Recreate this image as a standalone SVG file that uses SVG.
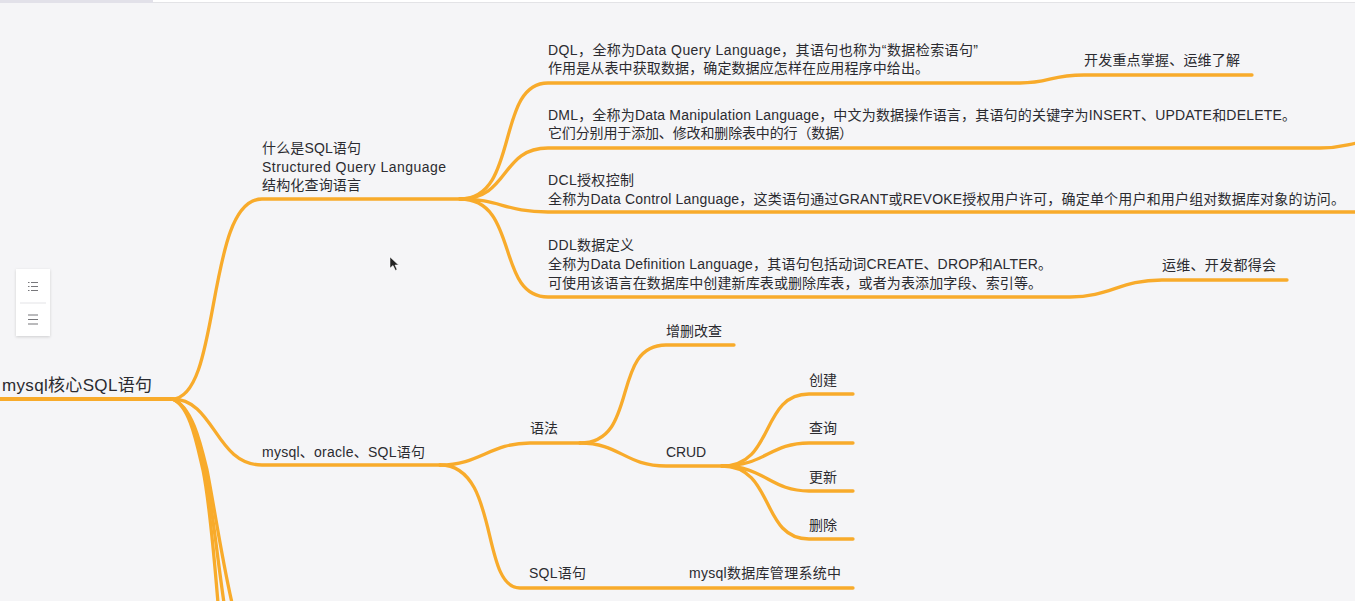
<svg xmlns="http://www.w3.org/2000/svg" width="1355" height="601" viewBox="0 0 1355 601">
<style>
text{font-family:"Liberation Sans","Noto Sans CJK SC",sans-serif;font-size:14px;fill:#2b2b30}
.l{fill:none;stroke:#f8ab2b;stroke-width:3.300;stroke-linecap:round}
.ic{stroke:#77777b;stroke-width:1.2;fill:none}
</style>
<defs><filter id="sh" x="-30%" y="-30%" width="160%" height="160%"><feDropShadow dx="0" dy="1" stdDeviation="1.500" flood-color="#000" flood-opacity=".16"/></filter></defs>
<rect width="1355" height="601" fill="#f5f5f7"/>
<rect width="1355" height="2" fill="#ffffff"/>
<rect y="2" width="1355" height="1" fill="#e3e3e6"/>
<rect width="153" height="3" fill="#e2e1e9"/>
<g id="connectors">
<path class="l" style="stroke-width:4" d="M-2,399H172"/>
<path class="l" d="M172,399C222,399 205,199 262,199H460"/>
<path class="l" d="M172,399C215,399 215,465 262,465H440"/>
<path class="l" d="M172,399C190,405 197,445 203,470C210,505 214,555 218,603"/>
<path class="l" d="M172,399C191,405 199,445 205,470C212,505 217,555 224,603"/>
<path class="l" d="M172,399C192,405 201,445 207,470C214,505 221,555 232,603"/>
<path class="l" d="M460,199C520,199 495,83 548,83H1020C1050,83 1050,75 1084,75H1252"/>
<path class="l" d="M460,199C510,199 500,148 548,148H1320C1340,148 1345,145 1357,143"/>
<path class="l" d="M460,199C500,199 505,212 548,212H1357"/>
<path class="l" d="M460,199C520,199 495,297 548,297H1070C1110,297 1120,280 1162,280H1287"/>
<path class="l" d="M440,465C480,465 490,443 530,443H580"/>
<path class="l" d="M440,465C500,465 480,588 520,588H853"/>
<path class="l" d="M580,443C640,443 610,345 666,345H734"/>
<path class="l" d="M580,443C620,443 625,466 666,466H722"/>
<path class="l" d="M722,466C775,466 760,394 809,394H853"/>
<path class="l" d="M722,466C765,466 770,443 809,443H853"/>
<path class="l" d="M722,466C765,466 770,491 809,491H853"/>
<path class="l" d="M722,466C775,466 760,539 809,539H853"/>
</g>
<g id="toolbar">
<rect x="16" y="269" width="34" height="67" fill="#fff" filter="url(#sh)"/>
<path d="M20,303H46" stroke="#e3e3e6"/>
<path class="ic" d="M31,282.500H38M31,286.500H38M31,290.500H38M28,282.500H29.500M28,286.500H29.500M28,290.500H29.500"/>
<path class="ic" d="M28,315H38M28,319.500H38M28,324H38"/>
</g>
<g id="root"><text x="2" y="391" textLength="150" style="font-size:17px">mysql核心SQL语句</text></g>
<g id="n-sql"><text x="262" y="153" textLength="99">什么是SQL语句</text><text x="262" y="172" textLength="184">Structured Query Language</text><text x="262" y="190" textLength="99">结构化查询语言</text></g>
<g id="n-dql"><text x="548" y="55" textLength="430">DQL，全称为Data Query Language，其语句也称为“数据检索语句”</text><text x="548" y="73" textLength="381">作用是从表中获取数据，确定数据应怎样在应用程序中给出。</text></g>
<g id="n-dql-note"><text x="1084" y="65" textLength="156">开发重点掌握、运维了解</text></g>
<g id="n-dml"><text x="548" y="120" textLength="748">DML，全称为Data Manipulation Language，中文为数据操作语言，其语句的关键字为INSERT、UPDATE和DELETE。</text><text x="548" y="138" textLength="305">它们分别用于添加、修改和删除表中的行（数据）</text></g>
<g id="n-dcl"><text x="548" y="185" textLength="86">DCL授权控制</text><text x="548" y="204" textLength="797">全称为Data Control Language，这类语句通过GRANT或REVOKE授权用户许可，确定单个用户和用户组对数据库对象的访问。</text></g>
<g id="n-ddl"><text x="548" y="250" textLength="86">DDL数据定义</text><text x="548" y="269" textLength="504">全称为Data Definition Language，其语句包括动词CREATE、DROP和ALTER。</text><text x="548" y="288" textLength="494">可使用该语言在数据库中创建新库表或删除库表，或者为表添加字段、索引等。</text></g>
<g id="n-ddl-note"><text x="1162" y="270" textLength="114">运维、开发都得会</text></g>
<g id="n-mysql"><text x="262" y="457" textLength="163">mysql、oracle、SQL语句</text></g>
<g id="n-syntax"><text x="530" y="433">语法</text></g>
<g id="n-zscc"><text x="666" y="336">增删改查</text></g>
<g id="n-crud"><text x="666" y="457" textLength="40">CRUD</text></g>
<g id="n-create"><text x="809" y="385">创建</text></g>
<g id="n-query"><text x="809" y="433">查询</text></g>
<g id="n-update"><text x="809" y="482">更新</text></g>
<g id="n-delete"><text x="809" y="530">删除</text></g>
<g id="n-sqlstmt"><text x="529" y="578" textLength="57">SQL语句</text></g>
<g id="n-dbms"><text x="689" y="578" textLength="152">mysql数据库管理系统中</text></g>
<path id="cursor" d="M390,257V268L393,265.500L395.500,270.500L397,269.500L395,265H398.500Z" fill="#222" stroke="#fff" stroke-width=".5"/>
</svg>
